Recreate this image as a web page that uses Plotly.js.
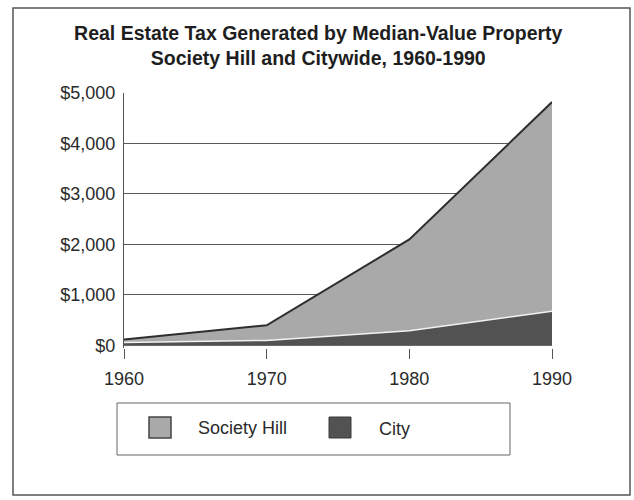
<!DOCTYPE html>
<html>
<head>
<meta charset="utf-8">
<script src="https://cdn.plot.ly/plotly-3.0.1.min.js"></script>
<style>html,body{margin:0;padding:0;background:#fff;}#chart{width:634px;height:500px;}</style>
</head>
<body>
<div id="chart"></div>
<script>
var years = [1960, 1970, 1980, 1990];
var societyHill = [120, 400, 2100, 4820];
var city = [60, 100, 290, 680];
var seriesNames = ["Society Hill", "City"];
var yTickVals = [0, 1000, 2000, 3000, 4000, 5000];
var yTickText = ["$0", "$1,000", "$2,000", "$3,000", "$4,000", "$5,000"];
var xTickVals = [1960, 1970, 1980, 1990];
var titleLines = ["Real Estate Tax Generated by Median-Value Property", "Society Hill and Citywide, 1960-1990"];

var shFill = "#a9a9a9", cityFill = "#525252";
var font = "Liberation Sans, Arial, Helvetica, sans-serif";

var traces = [
  {x: years, y: societyHill, name: seriesNames[0], type: "scatter", mode: "lines",
   fill: "tozeroy", fillcolor: shFill, line: {color: "#2e2e2e", width: 2}, showlegend: false},
  {x: years, y: city, name: seriesNames[1], type: "scatter", mode: "lines",
   fill: "tozeroy", fillcolor: cityFill, line: {color: "#f2f2f2", width: 1.5}, showlegend: false}
];

function px(x){ return (x - 124) / 428; }
function py(y){ return (348 - y) / 255; }

var layout = {
  width: 634, height: 500,
  margin: {l: 124, r: 82, t: 93, b: 152},
  paper_bgcolor: "#fff", plot_bgcolor: "#fff",
  font: {family: font, color: "#2a2a2a"},
  title: {text: titleLines.join("<br>"), x: 0.502, xanchor: "center", y: 0.92, yanchor: "top",
          font: {family: font, size: 19.5, color: "#1e1e1e", weight: "bold"}},
  showlegend: false,
  xaxis: {range: [1960, 1990], tickvals: xTickVals, ticks: "outside", ticklen: 10, tickwidth: 1,
          tickcolor: "#555", showgrid: false, zeroline: false, showline: false,
          tickfont: {size: 18, color: "#2a2a2a"}, ticklabelstandoff: 4, fixedrange: true},
  yaxis: {range: [-50, 5000], tickvals: yTickVals, ticktext: yTickText, ticks: "",
          showgrid: true, gridcolor: "#5a5a5a", gridwidth: 1, zeroline: false,
          showline: true, linecolor: "#555", linewidth: 1.2,
          tickfont: {size: 18, color: "#2a2a2a"}, ticklabelstandoff: 4, fixedrange: true},
  shapes: [
    {type: "rect", xref: "paper", yref: "paper", x0: px(13), x1: px(630), y0: py(495), y1: py(8),
     line: {color: "#555", width: 1.5}, fillcolor: "rgba(0,0,0,0)", layer: "below"},
    {type: "rect", xref: "paper", yref: "paper", x0: px(117), x1: px(510), y0: py(455), y1: py(403),
     line: {color: "#666", width: 1}, fillcolor: "rgba(0,0,0,0)"},
    {type: "rect", xref: "paper", yref: "paper", x0: px(149), x1: px(171), y0: py(438), y1: py(417),
     line: {color: "#444", width: 1.5}, fillcolor: shFill},
    {type: "rect", xref: "paper", yref: "paper", x0: px(329), x1: px(351), y0: py(438), y1: py(417),
     line: {color: "#3a3a3a", width: 1}, fillcolor: cityFill}
  ],
  annotations: [
    {xref: "paper", yref: "paper", x: px(196), y: py(428), xanchor: "left", yanchor: "middle",
     text: seriesNames[0], showarrow: false, font: {size: 18, color: "#2a2a2a"}},
    {xref: "paper", yref: "paper", x: px(377), y: py(429), xanchor: "left", yanchor: "middle",
     text: seriesNames[1], showarrow: false, font: {size: 18, color: "#2a2a2a"}}
  ]
};

Plotly.newPlot("chart", traces, layout, {displayModeBar: false, staticPlot: true});
</script>
</body>
</html>
